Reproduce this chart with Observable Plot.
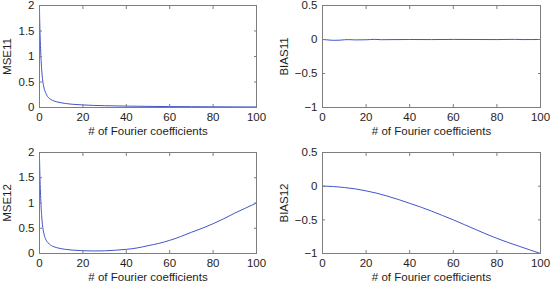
<!DOCTYPE html>
<html><head><meta charset="utf-8">
<script src="https://cdn.jsdelivr.net/npm/d3@7"></script>
<script src="https://cdn.jsdelivr.net/npm/@observablehq/plot@0.6"></script>
<style>
html,body{margin:0;padding:0;background:#fff;}
#wrap{position:relative;width:552px;height:288px;overflow:hidden;background:#fff;}
.panel{position:absolute;}
.panel svg{display:block;}
</style></head><body><div id="wrap"></div>
<script>
const xTicks = [0, 20, 40, 60, 80, 100];
const mseTicks = [0, 0.5, 1, 1.5, 2];
const biasTicks = [-1, -0.5, 0, 0.5];
const xLabel = "# of Fourier coefficients";
const panelLabels = ["MSE11", "BIAS11", "MSE12", "BIAS12"];

const mse11X = [0, 0.25, 0.5, 0.75, 1, 1.5, 2, 3, 4, 5, 6, 8, 10, 12, 15, 20, 25, 30, 40, 50, 60, 70, 80, 90, 100];
const mse11Y = [1.9, 1.45, 1.15, 0.92, 0.75, 0.52, 0.4, 0.27, 0.2, 0.165, 0.14, 0.11, 0.092, 0.078, 0.064, 0.05, 0.041, 0.035, 0.027, 0.022, 0.018, 0.016, 0.014, 0.012, 0.011];

const bias11X = [0, 2, 5, 8, 10, 12, 15, 20, 24, 27, 30, 40, 50, 60, 70, 80, 88, 92, 100];
const bias11Y = [0, -0.005, -0.012, -0.01, -0.004, -0.002, -0.006, -0.004, 0.002, -0.003, -0.002, 0, -0.001, 0.001, 0, -0.001, 0.002, -0.001, 0];

const mse12X = [0, 0.25, 0.5, 0.75, 1, 1.5, 2, 3, 4, 5, 6, 8, 10, 12, 15, 20, 25, 30, 35, 40, 45, 50, 55, 60, 65, 70, 75, 80, 85, 90, 95, 100];
const mse12Y = [1.9, 1.45, 1.15, 0.92, 0.75, 0.52, 0.4, 0.27, 0.21, 0.17, 0.145, 0.115, 0.095, 0.082, 0.068, 0.055, 0.05, 0.053, 0.065, 0.082, 0.11, 0.155, 0.2, 0.26, 0.335, 0.42, 0.5, 0.59, 0.69, 0.8, 0.9, 1.0];

const bias12X = [0, 5, 10, 15, 20, 25, 30, 35, 40, 45, 50, 55, 60, 65, 70, 75, 80, 85, 90, 95, 100];
const bias12Y = [0, -0.005, -0.02, -0.04, -0.07, -0.105, -0.15, -0.2, -0.255, -0.31, -0.37, -0.435, -0.5, -0.57, -0.64, -0.71, -0.775, -0.835, -0.89, -0.945, -1.0];

const fmt = d => d < 0 ? "\u2212" + Math.abs(d) : String(d);
const zip = (xs, ys) => xs.map((x, i) => ({x, y: ys[i]}));

const lineColor = "#4255c8";
const frameColor = "#7d7d7d";
const textColor = "#1e1e1e";

function panel(cfg) {
  const data = zip(cfg.xs, cfg.ys);
  const plot = Plot.plot({
    width: 276, height: 144,
    marginLeft: cfg.ml, marginRight: cfg.mr, marginTop: cfg.mt, marginBottom: cfg.mb,
    style: {fontFamily: "'Liberation Sans', Arial, sans-serif", fontSize: "11.5px", color: textColor, background: "white"},
    x: {domain: [0, 100], axis: null},
    y: {domain: cfg.domain, axis: null},
    marks: [
      Plot.line(data, {x: "x", y: "y", stroke: lineColor, strokeWidth: 1, curve: "monotone-x"}),
      Plot.frame({stroke: frameColor, strokeWidth: 1}),
      Plot.axisX(xTicks, {anchor: "bottom", tickSize: -3, stroke: frameColor, tickFormat: () => "", label: null}),
      Plot.axisX(xTicks, {anchor: "top", tickSize: -3, stroke: frameColor, tickFormat: () => "", label: null}),
      Plot.axisY(cfg.ticks, {anchor: "left", tickSize: -3, stroke: frameColor, tickFormat: () => "", label: null}),
      Plot.axisY(cfg.ticks, {anchor: "right", tickSize: -3, stroke: frameColor, tickFormat: () => "", label: null}),
      Plot.axisX(xTicks, {anchor: "bottom", tickSize: 0, tickPadding: 5.5, tickFormat: fmt, label: null}),
      Plot.axisY(cfg.ticks, {anchor: "left", tickSize: 0, tickPadding: 5, tickFormat: fmt, label: null}),
      Plot.text([xLabel], {frameAnchor: "bottom", text: d => d, dy: 23.5, lineAnchor: "middle", fill: textColor}),
      Plot.text([cfg.label], {frameAnchor: "left", text: d => d, dx: cfg.labelDx, rotate: -90, textAnchor: "middle", lineAnchor: "middle", fill: textColor})
    ]
  });
  const div = document.createElement("div");
  div.className = "panel";
  div.style.left = cfg.left + "px";
  div.style.top = cfg.top + "px";
  div.appendChild(plot);
  document.getElementById("wrap").appendChild(div);
}

panel({xs: mse11X, ys: mse11Y, domain: [0, 2], ticks: mseTicks, label: panelLabels[0], left: 0, top: 0, ml: 39, mr: 20, mt: 5, mb: 37, labelDx: -32});
panel({xs: bias11X, ys: bias11Y, domain: [-1, 0.5], ticks: biasTicks, label: panelLabels[1], left: 276, top: 0, ml: 46, mr: 12, mt: 5, mb: 37, labelDx: -38});
panel({xs: mse12X, ys: mse12Y, domain: [0, 2], ticks: mseTicks, label: panelLabels[2], left: 0, top: 144, ml: 39, mr: 20, mt: 8, mb: 35, labelDx: -32});
panel({xs: bias12X, ys: bias12Y, domain: [-1, 0.5], ticks: biasTicks, label: panelLabels[3], left: 276, top: 144, ml: 46, mr: 12, mt: 8, mb: 35, labelDx: -38});
</script>
</body></html>
